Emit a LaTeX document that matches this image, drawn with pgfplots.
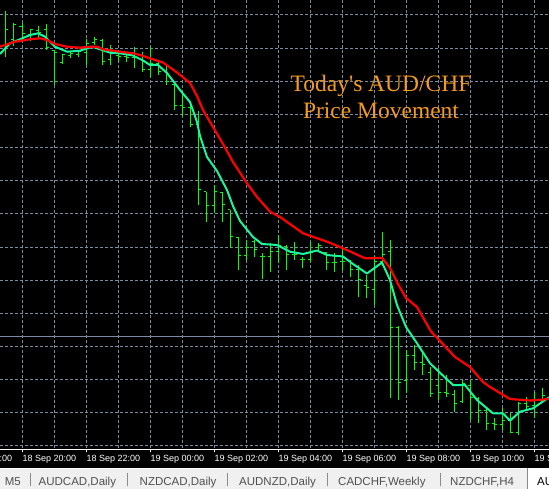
\documentclass[border=0pt]{standalone}
\usepackage{fontspec}
\setmainfont{Liberation Sans}
\newfontfamily\titlefont{Liberation Serif}
\usepackage{pgfplots}
\usepackage{pgfplotstable}
\pgfplotsset{compat=1.18}
\definecolor{bargreen}{HTML}{00FF00}
\definecolor{maaqua}{HTML}{1AF5A0}
\definecolor{mared}{HTML}{FF0000}
\definecolor{gridc}{HTML}{7A8AA0}
\definecolor{txtorange}{HTML}{F39A1E}
\definecolor{tabbg}{HTML}{F0F0F0}
\definecolor{tabtxt}{HTML}{505050}
\definecolor{tabsep}{HTML}{8A8A8A}
\tikzset{timelab/.style={anchor=base west, inner sep=0pt, text=white, font=\fontsize{9}{10}\selectfont}}

\pgfdeclareplotmark{openTick}{\pgfpathmoveto{\pgfqpoint{-2.5pt}{0pt}}\pgfpathlineto{\pgfqpoint{0pt}{0pt}}\pgfusepathqstroke}
\pgfdeclareplotmark{closeTick}{\pgfpathmoveto{\pgfqpoint{0pt}{0pt}}\pgfpathlineto{\pgfqpoint{2.5pt}{0pt}}\pgfusepathqstroke}

% M15 bars, x = 6+8k (pixel column), prices as pixel rows (top = 0)
\pgfplotstableread{
k o h l c
0 50 11 57 30
1 40 23 46 25
2 27 23 40 34
3 35 29 41 30
4 31 26 39 33
5 30 24 50 48
6 51 50 85 53
7 63 55 64 55
8 56 52 58 54
9 55 50 57 52
10 53 39 65 44
11 43 37 45 40
12 41 39 65 62
13 60 45 65 52
14 56 50 62 57
15 57 52 62 58
16 58 47 68 55
17 56 52 72 70
18 70 47 77 64
19 64 60 75 72
20 72 65 85 82
21 85 84 110 106
22 106 93 116 108
23 108 105 127 125
24 125 111 205 190
25 192 192 222 206
26 206 185 213 192
27 193 192 222 205
28 210 210 248 237
29 238 237 270 256
30 256 240 260 248
31 242 240 257 250
32 257 253 279 257
33 257 243 272 252
34 252 235 263 246
35 247 245 270 255
36 255 242 260 255
37 260 257 268 260
38 260 242 262 253
39 248 243 250 246
40 253 252 270 263
41 263 253 272 263
42 262 248 270 262
43 262 260 277 270
44 270 265 297 280
45 286 275 298 288
46 290 256 305 262
47 262 232 266 255
48 252 240 398 327
49 327 326 400 382
50 380 350 393 355
51 355 345 370 362
52 362 352 375 364
53 372 367 397 393
54 385 368 400 392
55 392 375 397 393
56 394 390 412 403
57 401 380 403 383
58 385 380 420 397
59 398 397 423 410
60 410 407 430 423
61 423 418 430 424
62 424 408 430 420
63 420 413 433 432
64 432 402 435 403
65 403 397 410 406
66 405 392 418 400
67 400 388 402 395
}\bars

\pgfplotstableread{
px y
0 46.7
15 41.7
30 39.3
40 38.3
47 40
55 44
67 46.7
80 47.7
90 46.7
97 46.7
103 49.3
120 51.7
133 53.3
140 55
150 58.3
163 62.5
177 72.5
190 83
197 96
203 110
213 127
223 144
233 162
247 183.3
257 197
270 211.7
280 217
303 233.3
327 241.7
343 248.3
365 258.3
382 258
390 268
398 284
406 298
417 307
431 331.5
455 357
470 367
483 382
490 387
510 399
530 400.5
549 399
}\redma

\pgfplotstableread{
px y
0 54
10 43.3
20 39.3
30 35
38 33.3
45 36.7
55 46.7
67 51.7
80 50.7
92 46.7
100 49.3
110 52.7
120 53.3
133 55.5
143 60.5
150 65
158 65
167 73
180 90
190 102
197 122
200 136
207 157
217 171
227 190
233 206
240 221
253 237
262 244
277 245
290 251.7
303 254
317 250.5
327 255
343 256.5
353 264
367 273.5
382 262.5
390 280
397 305
406 327
417 343.3
430 363.3
453 385
465 385
477 400
493 413.3
503 413.3
510 420.7
520 411.7
533 408.3
549 397.3
}\aquama

\begin{document}
\begin{tikzpicture}
\useasboundingbox (0,0) rectangle (549pt,489pt);
\clip (0,0) rectangle (549pt,489pt);
\fill[black] (0,0) rectangle (549pt,489pt);
\begin{axis}[
  at={(-10pt,40pt)}, anchor=south west,
  scale only axis, width=569pt, height=459pt,
  xmin=-10, xmax=559, ymin=-10, ymax=449, y dir=reverse,
  clip mode=individual,
  axis line style={white, line width=0.9pt},
  xtick={22,86,150,214,278,342,406,470,534},
  minor xtick={54,118,182,246,310,374,438,502},
  ytick={15,48.15,81.3,114.45,147.6,180.75,213.9,247.05,280.2,313.35,346.5,379.65,412.8,445.95},
  xticklabels={}, yticklabels={},
  tick align=outside, major tick length=3pt, minor tick length=0pt,
  xtick style={white, line width=0.9pt},
  ytick style={draw=none},
  grid=both,
  major grid style={gridc, line width=1pt, dash pattern=on 3pt off 2pt},
  minor grid style={gridc, line width=1pt, dash pattern=on 3pt off 2pt},
]
% bid line
\addplot[gridc, line width=1pt, forget plot] coordinates {(-10,336.7) (559,336.7)};
% OHLC bars: high-low line + open tick
\addplot[only marks, mark=openTick, bargreen, line width=1pt,
  error bars/.cd, y dir=both, y explicit, error mark=none,
  error bar style={bargreen, line width=1pt}]
  table[x expr=6+8*\thisrow{k}, y=o,
        y error plus expr=\thisrow{l}-\thisrow{o},
        y error minus expr=\thisrow{o}-\thisrow{h}] {\bars};
% close tick
\addplot[only marks, mark=closeTick, bargreen, line width=1pt]
  table[x expr=6+8*\thisrow{k}, y=c] {\bars};
% moving averages
\addplot[maaqua, line width=2pt, line join=round, mark=none] table[x=px, y=y] {\aquama};
\addplot[mared, line width=2.2pt, line join=round, mark=none] table[x=px, y=y] {\redma};
% title text
\node[anchor=base, inner sep=0pt, text=txtorange, font=\titlefont\fontsize{23.5}{27}\selectfont] at (axis cs:381,92) {Today\textquotesingle s AUD/CHF};
\node[anchor=base, inner sep=0pt, text=txtorange, font=\titlefont\fontsize{23.5}{27}\selectfont] at (axis cs:381,119) {Price Movement};
% time labels
\node[timelab] at (axis cs:-41.5,461) {18 Sep 18:00};
\node[timelab] at (axis cs:22.5,461) {18 Sep 20:00};
\node[timelab] at (axis cs:86.5,461) {18 Sep 22:00};
\node[timelab] at (axis cs:150.5,461) {19 Sep 00:00};
\node[timelab] at (axis cs:214.5,461) {19 Sep 02:00};
\node[timelab] at (axis cs:278.5,461) {19 Sep 04:00};
\node[timelab] at (axis cs:342.5,461) {19 Sep 06:00};
\node[timelab] at (axis cs:406.5,461) {19 Sep 08:00};
\node[timelab] at (axis cs:470.5,461) {19 Sep 10:00};
\node[timelab] at (axis cs:534.5,461) {19 Sep 12:00};
\end{axis}
% tab bar
\fill[tabbg] (0,0) rectangle (527pt,20pt);
\draw[white, line width=1pt] (0,20.5pt) -- (549pt,20.5pt);
\fill[white] (527pt,0) rectangle (549pt,21pt);
\draw[tabsep, line width=1pt] (527.5pt,0) -- (527.5pt,21pt);
\foreach \x in {30.5,127.5,227.5,327.5,440.5}{
  \draw[tabsep, line width=1pt] (\x pt,2.5pt) -- (\x pt,16pt);
}
\begin{scope}[every node/.style={inner sep=0pt, font=\fontsize{11.5}{13}\selectfont, text=tabtxt}]
\node[anchor=base east] at (21pt,3pt) {M5};
\node[anchor=base west] at (38.5pt,3pt) {AUDCAD,Daily};
\node[anchor=base west] at (139.5pt,3pt) {NZDCAD,Daily};
\node[anchor=base west] at (239pt,3pt) {AUDNZD,Daily};
\node[anchor=base west] at (338pt,3pt) {CADCHF,Weekly};
\node[anchor=base west] at (450pt,3pt) {NZDCHF,H4};
\node[anchor=base west, text=black] at (537pt,3pt) {AUDCHF,M15};
\end{scope}
\end{tikzpicture}
\end{document}
